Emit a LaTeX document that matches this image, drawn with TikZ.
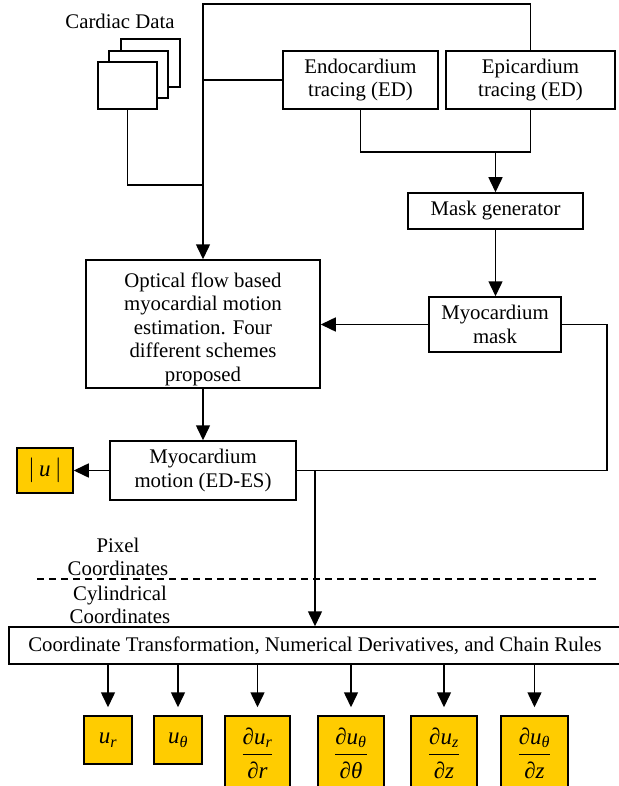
\documentclass[tikz,border=0pt]{standalone}
\usepackage{amsmath}
\usepackage{fontspec}
\setmainfont{Liberation Serif}
\usetikzlibrary{arrows.meta}
\definecolor{goldc}{RGB}{255,204,0}
\newcommand\vi[1]{\textit{#1}}
\begin{document}
\begin{tikzpicture}[x=1pt,y=-1pt, line width=1.5pt,
  box/.style={draw, fill=white, align=center, inner sep=0pt, font=\fontsize{20.8}{23.5}\selectfont},
  gold/.style={draw, fill=goldc, inner sep=0pt, font=\fontsize{23}{26}\selectfont},
  arr/.style={-{Triangle[length=15pt,width=14pt]}},
  lbl/.style={align=center, inner sep=0pt, font=\fontsize{20.8}{23.5}\selectfont}]
\useasboundingbox (0,0) rectangle (618,786);

% cardiac data stack
\node[lbl] (cd) at (120,21) {Cardiac Data};
\draw[fill=white] (121,39) rectangle (180,87);
\draw[fill=white] (109,51) rectangle (168,98);
\node[draw, fill=white, minimum width=59pt, minimum height=47pt, inner sep=0pt] (data) at (127.5,85.5) {};

% boxes
\node[box, minimum width=155pt, minimum height=58pt] (endo) at (360.5,80) {Endocardium\\tracing (ED)};
\node[box, minimum width=169pt, minimum height=58pt] (epi) at (530.5,80) {Epicardium\\tracing (ED)};
\node[box, minimum width=175pt, minimum height=36pt] (maskgen) at (495.5,211) {Mask generator};
\node[box, minimum width=132pt, minimum height=55pt] (mask) at (495,324.5) {Myocardium\\mask};
\node[box, minimum width=234pt, minimum height=128pt] (opt) at (203,324) {};
\node[lbl] (opttext) at (203,329) {Optical flow based\\myocardial motion\\estimation. Four\\different schemes\\proposed};
\node[box, minimum width=186pt, minimum height=59pt] (motion) at (203,470.5) {Myocardium\\motion (ED-ES)};
\node[gold, minimum width=56pt, minimum height=45pt] (umag) at (45,470.5) {$|\,\vi{u}\,|$};
\node[box, minimum width=612pt, minimum height=37pt] (coord) at (315,645.5) {Coordinate Transformation, Numerical Derivatives, and Chain Rules};

% outputs
\node[gold, minimum width=48pt, minimum height=48pt] (ur) at (108,740) {$\vi{u}_{\vi{r}}$};
\node[gold, minimum width=48pt, minimum height=48pt] (ut) at (178,740) {$\vi{u}_{\vi{θ}}$};
\node[gold, minimum width=65pt, minimum height=74pt] (d1) at (257.5,753) {$\dfrac{\vi{∂u}_{\vi{r}}}{\vi{∂r}}$};
\node[gold, minimum width=66pt, minimum height=74pt] (d2) at (351,753) {$\dfrac{\vi{∂u}_{\vi{θ}}}{\vi{∂θ}}$};
\node[gold, minimum width=66pt, minimum height=74pt] (d3) at (444,753) {$\dfrac{\vi{∂u}_{\vi{z}}}{\vi{∂z}}$};
\node[gold, minimum width=67pt, minimum height=74pt] (d4) at (534.5,753) {$\dfrac{\vi{∂u}_{\vi{θ}}}{\vi{∂z}}$};

% coordinate labels
\node[lbl] (pix) at (118,557) {Pixel\\Coordinates};
\node[lbl] (cyl) at (120,605) {Cylindrical\\Coordinates};
\coordinate (dl) at (37,579);
\coordinate (dr) at (599,579);
\draw[dash pattern=on 7pt off 5pt] (dl) -- (dr);

% connectors
\coordinate (top) at (203,4);
\coordinate (jdata) at (203,185);
\coordinate (merge) at (495.5,152);
\coordinate (rc) at (607,470.5);
\coordinate (vj) at (315,470.5);
\draw[arr] (epi.north) |- (top) -- (opt.north);
\draw (endo.west) -- (endo.west -| top);
\draw (data.south) |- (jdata);
\draw (endo.south) |- (merge) -| (epi.south);
\draw[arr] (merge) -- (maskgen.north);
\draw[arr] (maskgen.south) -- (maskgen.south |- mask.north);
\draw[arr] (mask.west) -- (mask.west -| opt.east);
\draw (mask.east) -| (rc) -- (motion.east);
\draw[arr] (opt.south) -- (motion.north);
\draw[arr] (motion.west) -- (umag.east);
\draw[arr] (vj) -- (coord.north);
\foreach \n in {ur,ut,d1,d2,d3,d4}
  \draw[arr, shorten >=8pt] (coord.south -| \n.north) -- (\n.north);
\end{tikzpicture}
\end{document}
